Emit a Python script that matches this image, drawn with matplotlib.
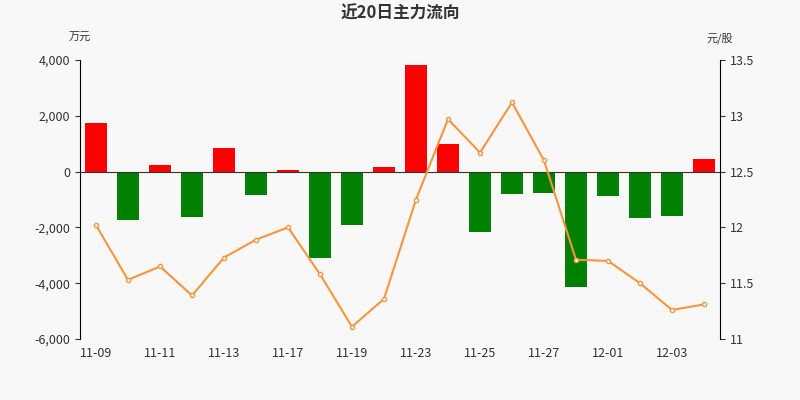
import numpy as np
import matplotlib
matplotlib.use('Agg')
import matplotlib.pyplot as plt
from matplotlib.ticker import FuncFormatter

plt.rcParams['font.family'] = ['Noto Sans CJK SC', 'DejaVu Sans']

# data
dates = ['11-09', '11-10', '11-11', '11-12', '11-13', '11-16', '11-17', '11-18', '11-19', '11-20',
         '11-23', '11-24', '11-25', '11-26', '11-27', '11-30', '12-01', '12-02', '12-03', '12-04']
flow = [1742, -1735, 237, -1627, 846, -839, 57, -3097, -1914, 165,
        3821, 989, -2165, -803, -767, -4136, -875, -1663, -1591, 452]
price = [12.02, 11.53, 11.65, 11.39, 11.73, 11.89, 12.00, 11.58, 11.11, 11.36,
         12.25, 12.97, 12.67, 13.12, 12.60, 11.71, 11.70, 11.50, 11.26, 11.31]

bg = '#f8f8f8'
fig = plt.figure(figsize=(8, 4), dpi=100, facecolor=bg)
ax = fig.add_axes([0.1, 0.1525, 0.8, 0.6975], facecolor=bg)
x = np.arange(len(dates))
colors = ['#ff0000' if v >= 0 else '#008000' for v in flow]
ax.bar(x, flow, width=0.7, color=colors, zorder=2)
ax.axhline(0, color='#333333', lw=0.8, zorder=3)
ax.set_xlim(-0.5, len(dates) - 0.5)
ax.set_ylim(-6000, 4000)
ax.set_yticks(range(-6000, 4001, 2000))
ax.yaxis.set_major_formatter(FuncFormatter(lambda v, p: f'{int(v):,}'))
ax.set_xticks(x[::2])
ax.set_xticklabels(dates[::2])
for s in ['top', 'right']:
    ax.spines[s].set_visible(False)
ax.spines['bottom'].set_visible(False)
ax.tick_params(labelsize=9, colors='#333333')
ax.tick_params(axis='x', length=0, pad=6)

ax2 = ax.twinx()
ax2.plot(x, price, color='#f7953d', lw=1.5, marker='o', ms=3,
         markerfacecolor='white', markeredgecolor='#f7953d', zorder=4)
ax2.set_ylim(11, 13.5)
ax2.set_yticks([11, 11.5, 12, 12.5, 13, 13.5])
ax2.yaxis.set_major_formatter(FuncFormatter(lambda v, p: f'{v:g}'))
for s in ['top', 'left', 'bottom']:
    ax2.spines[s].set_visible(False)
ax2.tick_params(labelsize=9, colors='#333333')

fig.text(0.5, 0.965, '近20日主力流向', ha='center', va='center', fontsize=12,
         fontweight='bold', color='#333333')
fig.text(0.1, 0.905, '万元', ha='center', va='center', fontsize=8, color='#333333')
fig.text(0.9, 0.905, '元/股', ha='center', va='center', fontsize=8, color='#333333')

fig.savefig('out.png', facecolor=bg)
